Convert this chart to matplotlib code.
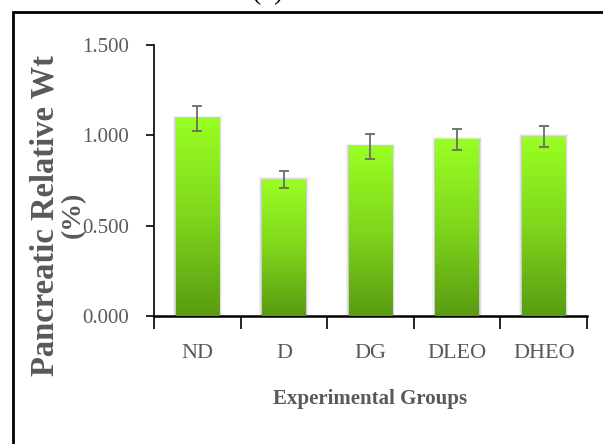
import numpy as np
import matplotlib
matplotlib.use('Agg')
import matplotlib.pyplot as plt
import matplotlib.patches as patches
from matplotlib.colors import LinearSegmentedColormap

groups = ['ND', 'D', 'DG', 'DLEO', 'DHEO']
means = [1.095, 0.755, 0.940, 0.978, 0.992]
errs = [0.070, 0.048, 0.070, 0.057, 0.057]
yticks = [0.0, 0.5, 1.0, 1.5]

GREY = '#595959'
SERIF = 'Liberation Serif'

fig = plt.figure(figsize=(6.03, 4.44), dpi=100)
ax = fig.add_axes([154 / 603, 1 - 316 / 444, 433 / 603, 271 / 444])

x = np.arange(len(groups))
width = 0.5

# gradient fill: bright lime at top, darker green at the base
grad_cmap = LinearSegmentedColormap.from_list('lime', ['#5A9B12', '#7FD61C', '#99FF22'])
grad = np.linspace(0, 1, 256).reshape(-1, 1)

bars = ax.bar(x, means, width=width, color='none', edgecolor='none', zorder=3)
for b in bars:
    x0, w, h = b.get_x(), b.get_width(), b.get_height()
    # soft grey shadow around the bar
    for pad, a in [(0.035, 0.10), (0.022, 0.16), (0.011, 0.22)]:
        ax.add_patch(patches.Rectangle((x0 - pad, 0), w + 2 * pad, h + pad * 0.4,
                                       facecolor='#808080', edgecolor='none',
                                       alpha=a, zorder=2))
    im = ax.imshow(grad, cmap=grad_cmap, origin='lower', aspect='auto',
                   extent=[x0, x0 + w, 0, h], zorder=3)
    im.set_clip_path(b)

ax.errorbar(x, means, yerr=errs, fmt='none', ecolor='#6b6b6b', elinewidth=1.3,
            capsize=3.3, capthick=1.3, zorder=4)

ax.set_xlim(-0.5, len(groups) - 0.5)
ax.set_ylim(0, 1.5)

for s in ['top', 'right']:
    ax.spines[s].set_visible(False)
ax.spines['left'].set_linewidth(1.2)
ax.spines['bottom'].set_linewidth(1.8)

ax.set_yticks(yticks)
ax.set_yticklabels([f'{v:.3f}' for v in yticks])
ax.tick_params(axis='y', direction='out', length=6, width=1.2, pad=12,
               labelsize=15, labelcolor=GREY, labelfontfamily=SERIF)

# category boundaries carry the tick marks, labels sit between them
ax.set_xticks(np.arange(-0.5, len(groups)), minor=False)
ax.set_xticklabels([])
ax.set_xticks(x, minor=True)
ax.set_xticklabels(groups, minor=True)
ax.tick_params(axis='x', which='major', direction='out', length=9, width=1.2)
ax.tick_params(axis='x', which='minor', length=0, pad=20, labelsize=16,
               labelcolor=GREY, labelfontfamily=SERIF)

fig.text(370 / 603, 1 - 399 / 444, 'Experimental Groups', ha='center', va='center',
         fontsize=15, fontweight='bold', color=GREY, family=SERIF)
fig.text(45 / 603, 1 - 215 / 444, 'Pancreatic Relative Wt', ha='center', va='center',
         rotation=90, fontsize=23.5, fontweight='bold', color=GREY, family=SERIF)
fig.text(73 / 603, 1 - 215 / 444, '(%)', ha='center', va='center',
         rotation=90, fontsize=20, fontweight='bold', color=GREY, family=SERIF)

# panel marker and outer frame
fig.text(268 / 603, 1 - 5 / 444, '(2)', ha='center', va='bottom',
         fontsize=20, color='black', family=SERIF)
fig.add_artist(patches.Rectangle((13 / 603, -0.1), 1.2, 1.1 - 12.5 / 444,
                                 transform=fig.transFigure, fill=False,
                                 edgecolor='black', linewidth=2.0))

fig.savefig('out.png', dpi=100)
